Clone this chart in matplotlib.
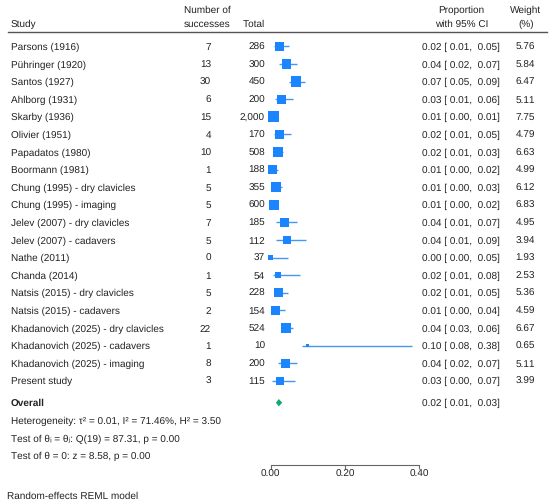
import matplotlib
matplotlib.use("Agg")
import matplotlib.pyplot as plt
import numpy as np

plt.rcParams['font.family'] = ['Liberation Sans', 'DejaVu Sans']
plt.rcParams['text.hinting'] = 'no_hinting'
plt.rcParams['text.hinting_factor'] = 1

# study data
studies = ["Parsons (1916)", "Pühringer (1920)", "Santos (1927)", "Ahlborg (1931)",
           "Skarby (1936)", "Olivier (1951)", "Papadatos (1980)", "Boormann (1981)",
           "Chung (1995) - dry clavicles", "Chung (1995) - imaging",
           "Jelev (2007) - dry clavicles", "Jelev (2007) - cadavers", "Nathe (2011)",
           "Chanda (2014)", "Natsis (2015) - dry clavicles", "Natsis (2015) - cadavers",
           "Khadanovich (2025) - dry clavicles", "Khadanovich (2025) - cadavers",
           "Khadanovich (2025) - imaging", "Present study"]
successes = [7, 13, 30, 6, 15, 4, 10, 1, 5, 5, 7, 5, 0, 1, 5, 2, 22, 1, 8, 3]
totals = [286, 300, 450, 200, 2000, 170, 508, 188, 355, 600, 185, 112, 37, 54, 228, 154,
          524, 10, 200, 115]
prop = [0.024, 0.043, 0.067, 0.030, 0.0075, 0.023, 0.020, 0.0053, 0.014, 0.0083,
        0.038, 0.0446, 0.0, 0.019, 0.022, 0.013, 0.042, 0.100, 0.040, 0.026]
ci_lo = [0.010, 0.023, 0.048, 0.012, 0.004, 0.008, 0.010, 0.0003, 0.0046, 0.0027,
         0.014, 0.014, 0.0, 0.006, 0.008, 0.002, 0.027, 0.083, 0.019, 0.0045]
ci_hi = [0.048, 0.072, 0.093, 0.059, 0.012, 0.054, 0.034, 0.021, 0.031, 0.019,
         0.072, 0.094, 0.046, 0.079, 0.046, 0.038, 0.061, 0.379, 0.072, 0.066]
weights = [5.76, 5.84, 6.47, 5.11, 7.75, 4.79, 6.63, 4.99, 6.12, 6.83,
           4.95, 3.94, 1.93, 2.53, 5.36, 4.59, 6.67, 0.65, 5.11, 3.99]

overall = 0.022
overall_lo = 0.014
overall_hi = 0.031

het_text = "Heterogeneity: τ² = 0.01, I² = 71.46%, H² = 3.50"
q_text = "Test of θᵢ = θⱼ: Q(19) = 87.31, p = 0.00"
z_text = "Test of θ = 0: z = 8.58, p = 0.00"
model_text = "Random-effects REML model"

xticks = [0.0, 0.2, 0.4]

W, H = 550, 503
fig = plt.figure(figsize=(W / 100, H / 100), dpi=100)

# axes spans full width; bottom edge is the x axis line
row0_px, row_step = 46.3, 17.6
axis_px = 465
ax = fig.add_axes([0, (H - axis_px) / H, 1, axis_px / H])
x0_px, x40_px = 270.67, 419.33
scale = (x40_px - x0_px) / 0.4
ax.set_xlim(-x0_px / scale, (W - x0_px) / scale)
ax.set_ylim((axis_px - row0_px) / row_step, -row0_px / row_step)

for s in ['top', 'right', 'left']:
    ax.spines[s].set_visible(False)
ax.spines['bottom'].set_bounds(0, 0.4)
ax.spines['bottom'].set_color('#666666')
ax.spines['bottom'].set_linewidth(0.8)
ax.set_yticks([])
ax.set_xticks(xticks)
ax.set_xticklabels([f"{t:.2f}" for t in xticks])
ax.tick_params(axis='x', length=3, width=0.8, color='#666666', labelsize=7.4,
               labelcolor='#222222', pad=0.5)

rows = np.arange(len(studies))
blue = '#1a85ff'
ax.hlines(rows, ci_lo, ci_hi, color='#4597f2', lw=1.0, zorder=2)
ax.scatter(prop, rows, marker='s', s=np.array(weights) * 8.1, color=blue,
           linewidths=0, zorder=3)

ov_row = (402.7 - row0_px) / row_step
dh = 0.21
ax.fill([overall_lo, overall, overall_hi, overall],
        [ov_row, ov_row - dh, ov_row, ov_row + dh], color='#0fa878', lw=0, zorder=3)

tr = ax.get_yaxis_transform()
fs = 7.4
tc = '#222222'
base = 3.7 / row_step  # centre of row -> text baseline


def px(x):
    return x / W


def rw(y):
    return (y - row0_px) / row_step


def put(x, y, s, ha='left', **kw):
    ax.text(px(x), y + base, s, transform=tr, ha=ha, va='baseline', fontsize=fs,
            color=tc, **kw)


for i in rows:
    put(11, i, studies[i])
    put(211, i, str(successes[i]), ha='right')
    put(265, i, f"{totals[i]:,}", ha='right')
    put(422, i, f"{prop[i]:.2f} [ {ci_lo[i]:.2f},  {ci_hi[i]:.2f}]")
    put(535, i, f"{weights[i]:.2f}", ha='right')

put(11, ov_row, "Overall", fontweight='bold')
put(422, ov_row, f"{overall:.2f} [ {overall_lo:.2f},  {overall_hi:.2f}]")
put(11, rw(420), het_text)
put(11, rw(438), q_text)
put(11, rw(455), z_text)

# headers
put(11, rw(23), "Study")
put(207, rw(9), "Number of", ha='center')
put(207, rw(23), "successes", ha='center')
put(265, rw(23), "Total", ha='right')
put(461.7, rw(9), "Proportion", ha='center')
put(461.7, rw(23), "with 95% CI", ha='center')
put(526, rw(9), "Weight", ha='center')
put(526, rw(23), "(%)", ha='center')
ax.plot([px(8), px(547)], [rw(32), rw(32)], transform=tr, color='#555555', lw=1.0, clip_on=False)

fig.text(px(7), 1 - (495 + 3.7) / H, model_text, ha='left', va='baseline', fontsize=fs, color=tc)

fig.savefig("out.png", dpi=100, facecolor='white')
